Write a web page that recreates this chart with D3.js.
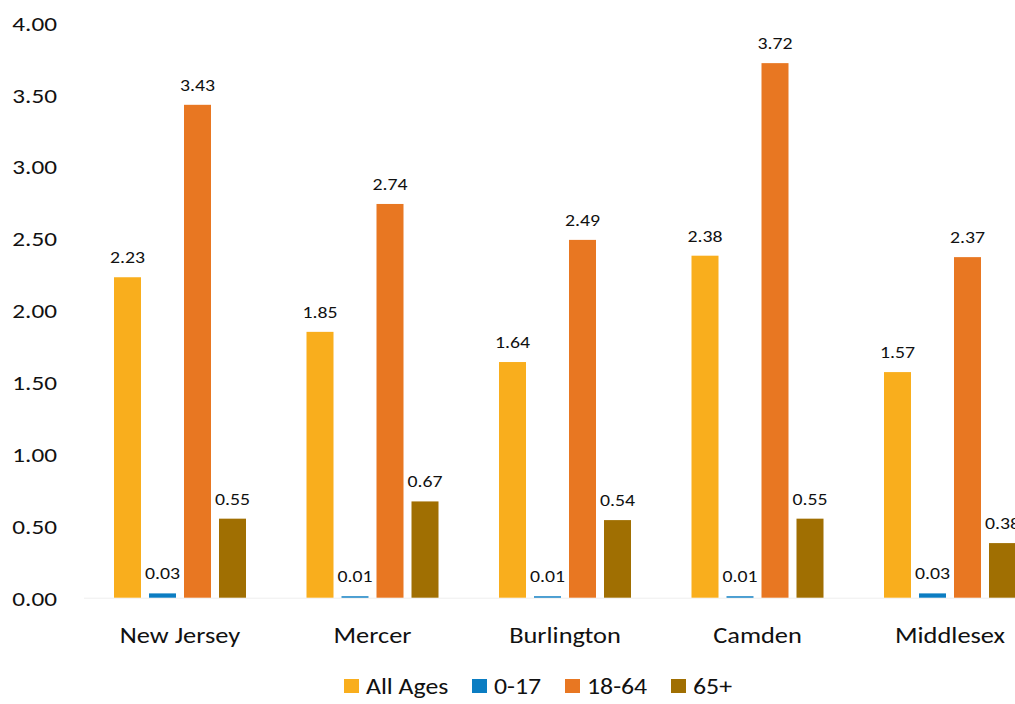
<!DOCTYPE html>
<html><head><meta charset="utf-8">
<script src="https://cdn.jsdelivr.net/npm/d3@7"></script>
<style>
html,body{margin:0;padding:0;background:#fff;}
svg{display:block;font-family:Carlito, Lato, "Liberation Sans", sans-serif;}
</style></head>
<body>
<svg id="chart" width="1015" height="704"></svg>
<script>
const categories = ["New Jersey","Mercer","Burlington","Camden","Middlesex"];
const seriesNames = ["All Ages","0-17","18-64","65+"];
const allAges = [2.23,1.85,1.64,2.38,1.57];
const age0to17 = [0.03,0.01,0.01,0.01,0.03];
const age18to64 = [3.43,2.74,2.49,3.72,2.37];
const age65plus = [0.55,0.67,0.54,0.55,0.38];
const yTicks = [0,0.5,1,1.5,2,2.5,3,3.5,4];
const colors = ["#F9AE1D","#0B7DC2","#E87722","#A06F02"];

const seriesValues = [allAges, age0to17, age18to64, age65plus];
const data = categories.map((c,i)=>({cat:c, vals: seriesNames.map((s,j)=>({key:s, value:seriesValues[j][i], color:colors[j]}))}));

const SX = 1.2; // horizontal stretch of glyphs, as in the reference
const svg = d3.select("#chart");
const y = d3.scaleLinear().domain([0,4]).range([597.7,22.9]);
const x0 = d3.scaleBand().domain(categories).range([83.75,1046.25]).paddingInner(52.5/192.5).paddingOuter(52.5/192.5/2);
const x1 = d3.scaleBand().domain(seriesNames).range([0,x0.bandwidth()]).paddingInner(8/35).paddingOuter(4/35);

// y axis labels
const yAxis = d3.axisLeft(y).tickValues(yTicks).tickFormat(d3.format(".2f")).tickSize(0).tickPadding(0);
const gy = svg.append("g").attr("transform","translate(57,0)").call(yAxis);
gy.select(".domain").remove();
gy.selectAll("text").attr("x",0).attr("font-size","21px").attr("fill","#111")
  .attr("font-family","Carlito, Lato, sans-serif").attr("dy","0.35em")
  .attr("transform",`scale(${SX},1)`);

// x axis labels
const xAxis = d3.axisBottom(x0).tickSize(0).tickPadding(0);
const gx = svg.append("g").attr("transform","translate(0,627)").call(xAxis);
gx.select(".domain").remove();
gx.selectAll("text").attr("font-size","22px").attr("fill","#111")
  .attr("font-family","Carlito, Lato, sans-serif").attr("dy","0.71em")
  .attr("transform",`scale(${SX},1)`);

// baseline
svg.append("line").attr("x1",84).attr("x2",1015).attr("y1",y(0)+0.5).attr("y2",y(0)+0.5).attr("stroke","#eee").attr("stroke-width",1);

const groups = svg.append("g").selectAll("g").data(data).join("g")
  .attr("transform",d=>`translate(${x0(d.cat)},0)`);
groups.selectAll("rect").data(d=>d.vals).join("rect")
  .attr("x",d=>x1(d.key)).attr("width",x1.bandwidth())
  .attr("y",d=>y(d.value)).attr("height",d=>y(0)-y(d.value))
  .attr("fill",d=>d.color);
groups.selectAll("text.val").data(d=>d.vals).join("text").attr("class","val")
  .attr("transform",d=>`translate(${x1(d.key)+x1.bandwidth()/2},${y(d.value)-14}) scale(${SX},1)`)
  .attr("text-anchor","middle").attr("font-size","16.5px").attr("fill","#111")
  .text(d=>d3.format(".2f")(d.value));

// legend
const legendX = [344,472,565,671];
const lg = svg.append("g").selectAll("g").data(seriesNames).join("g")
  .attr("transform",(d,i)=>`translate(${legendX[i]},679)`);
lg.append("rect").attr("width",15).attr("height",14).attr("fill",(d,i)=>colors[i]);
lg.append("text").attr("transform",`translate(22,7) scale(${SX},1)`).attr("dy","0.35em")
  .attr("font-size","21.5px").attr("fill","#111").text(d=>d);
</script>
</body></html>
